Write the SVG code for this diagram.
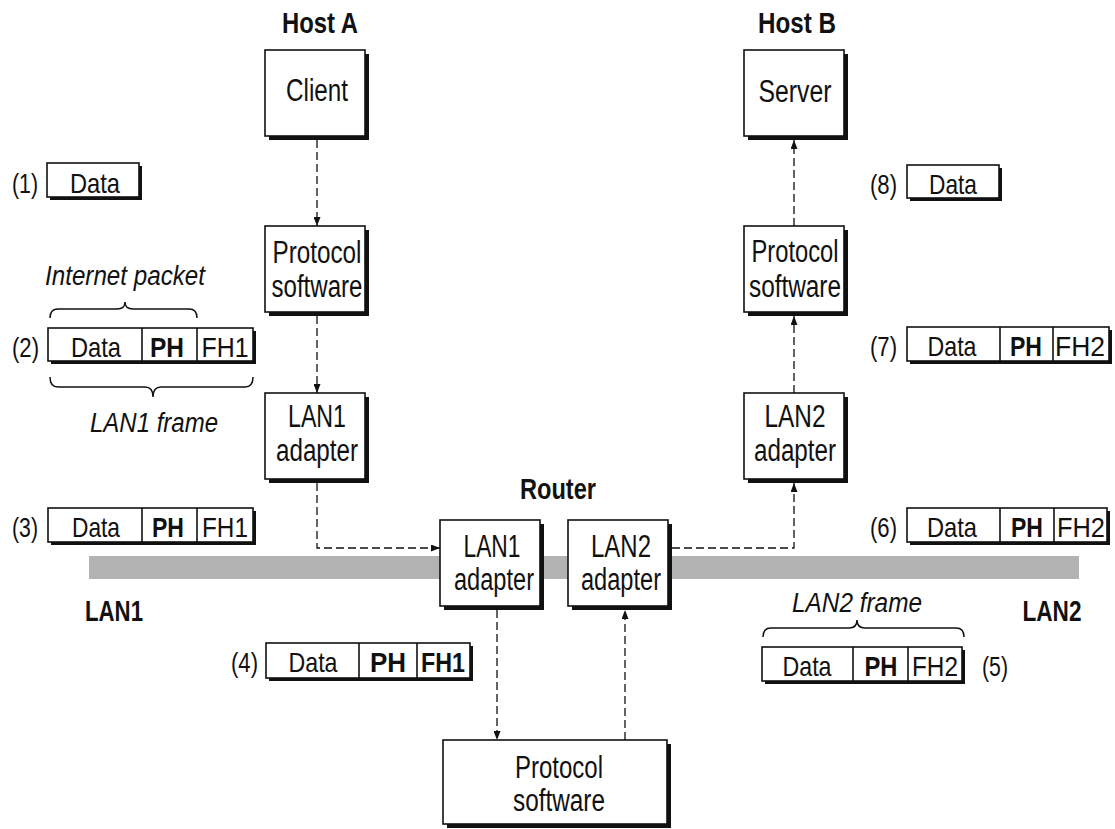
<svg xmlns="http://www.w3.org/2000/svg" width="1115" height="829" viewBox="0 0 1115 829">
<style>
text{font-family:"Liberation Sans",Arial,sans-serif;fill:#111}
.n{font-size:31px;text-anchor:middle}
.h{font-size:29px;font-weight:bold;text-anchor:middle}
.p{font-size:28px;text-anchor:middle}
.pb{font-size:28px;text-anchor:middle;font-weight:bold}
.l{font-size:28px}
.i{font-size:27px;font-style:italic;text-anchor:middle}
.box{fill:#fff;stroke:#111;stroke-width:1.6}
.sh{fill:#111}
.c{fill:none;stroke:#111;stroke-width:1.3;stroke-dasharray:8 4}
.d{stroke:#111;stroke-width:1.6}
.br{fill:none;stroke:#111;stroke-width:1.5}
.bar{fill:#b3b3b3}
</style>
<defs>
<marker id="ah" markerUnits="userSpaceOnUse" markerWidth="9" markerHeight="7" refX="9" refY="3.5" orient="auto">
<path d="M0,0 L9,3.5 L0,7 z" fill="#111"/>
</marker>
</defs>
<rect width="1115" height="829" fill="#fff"/>
<rect class="bar" x="89" y="556" width="990" height="23"/>

<g id="labels">
<text class="h" x="320" y="33" textLength="76" lengthAdjust="spacingAndGlyphs">Host A</text>
<text class="h" x="797" y="33" textLength="78" lengthAdjust="spacingAndGlyphs">Host B</text>
<text class="h" x="558" y="499" textLength="76" lengthAdjust="spacingAndGlyphs">Router</text>
<text class="h" x="114" y="621" textLength="58" lengthAdjust="spacingAndGlyphs">LAN1</text>
<text class="h" x="1052" y="621" textLength="59" lengthAdjust="spacingAndGlyphs">LAN2</text>
</g>

<g id="connectors">
<path class="c" d="M317,140 L317,226" marker-end="url(#ah)"/>
<path class="c" d="M317,316 L317,393" marker-end="url(#ah)"/>
<path class="c" d="M317,483 L317,548 L440,548" marker-end="url(#ah)"/>
<path class="c" d="M497,610 L497,740" marker-end="url(#ah)"/>
<path class="c" d="M625,740 L625,610" marker-end="url(#ah)"/>
<path class="c" d="M672,548 L794,548 L794,483" marker-end="url(#ah)"/>
<path class="c" d="M794,393 L794,316" marker-end="url(#ah)"/>
<path class="c" d="M794,226 L794,140" marker-end="url(#ah)"/>
</g>

<g id="client">
<rect class="sh" x="269" y="54" width="100" height="86"/>
<rect class="box" x="265" y="50" width="100" height="86"/>
<text class="n" x="317" y="101" textLength="62" lengthAdjust="spacingAndGlyphs">Client</text>
</g>
<g id="protoA">
<rect class="sh" x="269" y="230" width="100" height="86"/>
<rect class="box" x="265" y="226" width="100" height="86"/>
<text class="n" x="317" y="263" textLength="89" lengthAdjust="spacingAndGlyphs">Protocol</text>
<text class="n" x="317" y="297" textLength="91" lengthAdjust="spacingAndGlyphs">software</text>
</g>
<g id="lan1A">
<rect class="sh" x="269" y="397" width="100" height="86"/>
<rect class="box" x="265" y="393" width="100" height="86"/>
<text class="n" x="317" y="427" textLength="58" lengthAdjust="spacingAndGlyphs">LAN1</text>
<text class="n" x="317" y="461" textLength="82" lengthAdjust="spacingAndGlyphs">adapter</text>
</g>
<g id="server">
<rect class="sh" x="748" y="54" width="100" height="86"/>
<rect class="box" x="744" y="50" width="100" height="86"/>
<text class="n" x="795" y="102" textLength="73" lengthAdjust="spacingAndGlyphs">Server</text>
</g>
<g id="protoB">
<rect class="sh" x="748" y="230" width="100" height="86"/>
<rect class="box" x="744" y="226" width="100" height="86"/>
<text class="n" x="795" y="262" textLength="87" lengthAdjust="spacingAndGlyphs">Protocol</text>
<text class="n" x="795" y="297" textLength="92" lengthAdjust="spacingAndGlyphs">software</text>
</g>
<g id="lan2B">
<rect class="sh" x="748" y="397" width="100" height="86"/>
<rect class="box" x="744" y="393" width="100" height="86"/>
<text class="n" x="795" y="427" textLength="61" lengthAdjust="spacingAndGlyphs">LAN2</text>
<text class="n" x="795" y="461" textLength="82" lengthAdjust="spacingAndGlyphs">adapter</text>
</g>
<g id="rLan1">
<rect class="sh" x="444" y="524" width="100" height="86"/>
<rect class="box" x="440" y="520" width="100" height="86"/>
<text class="n" x="492" y="557" textLength="57" lengthAdjust="spacingAndGlyphs">LAN1</text>
<text class="n" x="494" y="590" textLength="80" lengthAdjust="spacingAndGlyphs">adapter</text>
</g>
<g id="rLan2">
<rect class="sh" x="572" y="524" width="100" height="86"/>
<rect class="box" x="568" y="520" width="100" height="86"/>
<text class="n" x="621" y="557" textLength="60" lengthAdjust="spacingAndGlyphs">LAN2</text>
<text class="n" x="621" y="590" textLength="80" lengthAdjust="spacingAndGlyphs">adapter</text>
</g>
<g id="rProto">
<rect class="sh" x="447" y="744" width="224" height="84"/>
<rect class="box" x="443" y="740" width="224" height="84"/>
<text class="n" x="559" y="778" textLength="88" lengthAdjust="spacingAndGlyphs">Protocol</text>
<text class="n" x="559" y="811" textLength="92" lengthAdjust="spacingAndGlyphs">software</text>
</g>

<g id="pkt1">
<text class="l" x="12" y="193" textLength="26" lengthAdjust="spacingAndGlyphs">(1)</text>
<rect class="sh" x="50" y="166" width="92" height="34"/>
<rect class="box" x="47" y="163" width="92" height="34"/>
<text class="p" x="95" y="193" textLength="50" lengthAdjust="spacingAndGlyphs">Data</text>
</g>
<g id="pkt2">
<text class="i" x="125" y="285" textLength="160" lengthAdjust="spacingAndGlyphs">Internet packet</text>
<path class="br" d="M50,318 Q50,309 58,309 L117,309 Q125,309 125,302 Q125,309 133,309 L189,309 Q197,309 197,318"/>
<text class="l" x="12" y="357" textLength="27" lengthAdjust="spacingAndGlyphs">(2)</text>
<rect class="sh" x="51" y="331" width="205" height="33"/>
<rect class="box" x="48" y="328" width="205" height="33"/>
<line class="d" x1="142" y1="328" x2="142" y2="361"/>
<line class="d" x1="197" y1="328" x2="197" y2="361"/>
<text class="p" x="96" y="357" textLength="50" lengthAdjust="spacingAndGlyphs">Data</text>
<text class="pb" x="167" y="357" textLength="34" lengthAdjust="spacingAndGlyphs">PH</text>
<text class="p" x="225" y="357" textLength="47" lengthAdjust="spacingAndGlyphs">FH1</text>
<path class="br" d="M50,377 Q50,387 58,387 L145,387 Q153,387 153,397 Q153,387 161,387 L245,387 Q253,387 253,377"/>
<text class="i" x="154" y="432" textLength="128" lengthAdjust="spacingAndGlyphs">LAN1 frame</text>
</g>
<g id="pkt3">
<text class="l" x="12" y="537" textLength="26" lengthAdjust="spacingAndGlyphs">(3)</text>
<rect class="sh" x="51" y="511" width="205" height="34"/>
<rect class="box" x="48" y="508" width="205" height="34"/>
<line class="d" x1="142" y1="508" x2="142" y2="542"/>
<line class="d" x1="197" y1="508" x2="197" y2="542"/>
<text class="p" x="96" y="537" textLength="48" lengthAdjust="spacingAndGlyphs">Data</text>
<text class="pb" x="168" y="537" textLength="32" lengthAdjust="spacingAndGlyphs">PH</text>
<text class="p" x="225" y="537" textLength="46" lengthAdjust="spacingAndGlyphs">FH1</text>
</g>
<g id="pkt4">
<text class="l" x="231" y="672" textLength="27" lengthAdjust="spacingAndGlyphs">(4)</text>
<rect class="sh" x="269" y="646" width="204" height="35"/>
<rect class="box" x="266" y="643" width="204" height="35"/>
<line class="d" x1="359" y1="643" x2="359" y2="678"/>
<line class="d" x1="417" y1="643" x2="417" y2="678"/>
<text class="p" x="313" y="672" textLength="49" lengthAdjust="spacingAndGlyphs">Data</text>
<text class="pb" x="388" y="672" textLength="36" lengthAdjust="spacingAndGlyphs">PH</text>
<text class="pb" x="443" y="672" textLength="44" lengthAdjust="spacingAndGlyphs">FH1</text>
</g>
<g id="pkt5">
<text class="i" x="857" y="612" textLength="130" lengthAdjust="spacingAndGlyphs">LAN2 frame</text>
<path class="br" d="M763,637 Q763,628 771,628 L849,628 Q857,628 857,620 Q857,628 865,628 L956,628 Q964,628 964,637"/>
<rect class="sh" x="765" y="650" width="200" height="34"/>
<rect class="box" x="762" y="647" width="200" height="34"/>
<line class="d" x1="853" y1="647" x2="853" y2="681"/>
<line class="d" x1="908" y1="647" x2="908" y2="681"/>
<text class="p" x="807" y="676" textLength="49" lengthAdjust="spacingAndGlyphs">Data</text>
<text class="pb" x="881" y="676" textLength="33" lengthAdjust="spacingAndGlyphs">PH</text>
<text class="p" x="935" y="676" textLength="46" lengthAdjust="spacingAndGlyphs">FH2</text>
<text class="l" x="982" y="676" textLength="26" lengthAdjust="spacingAndGlyphs">(5)</text>
</g>
<g id="pkt6">
<text class="l" x="870" y="537" textLength="27" lengthAdjust="spacingAndGlyphs">(6)</text>
<rect class="sh" x="910" y="511" width="200" height="34"/>
<rect class="box" x="907" y="508" width="200" height="34"/>
<line class="d" x1="1000" y1="508" x2="1000" y2="542"/>
<line class="d" x1="1054" y1="508" x2="1054" y2="542"/>
<text class="p" x="952" y="537" textLength="50" lengthAdjust="spacingAndGlyphs">Data</text>
<text class="pb" x="1027" y="537" textLength="32" lengthAdjust="spacingAndGlyphs">PH</text>
<text class="p" x="1081" y="537" textLength="48" lengthAdjust="spacingAndGlyphs">FH2</text>
</g>
<g id="pkt7">
<text class="l" x="870" y="356" textLength="27" lengthAdjust="spacingAndGlyphs">(7)</text>
<rect class="sh" x="910" y="330" width="202" height="34"/>
<rect class="box" x="907" y="327" width="202" height="34"/>
<line class="d" x1="1000" y1="327" x2="1000" y2="361"/>
<line class="d" x1="1053" y1="327" x2="1053" y2="361"/>
<text class="p" x="952" y="356" textLength="49" lengthAdjust="spacingAndGlyphs">Data</text>
<text class="pb" x="1026" y="356" textLength="32" lengthAdjust="spacingAndGlyphs">PH</text>
<text class="p" x="1080" y="356" textLength="50" lengthAdjust="spacingAndGlyphs">FH2</text>
</g>
<g id="pkt8">
<text class="l" x="870" y="194" textLength="27" lengthAdjust="spacingAndGlyphs">(8)</text>
<rect class="sh" x="910" y="168" width="92" height="33"/>
<rect class="box" x="907" y="165" width="92" height="33"/>
<text class="p" x="953" y="194" textLength="48" lengthAdjust="spacingAndGlyphs">Data</text>
</g>
</svg>
